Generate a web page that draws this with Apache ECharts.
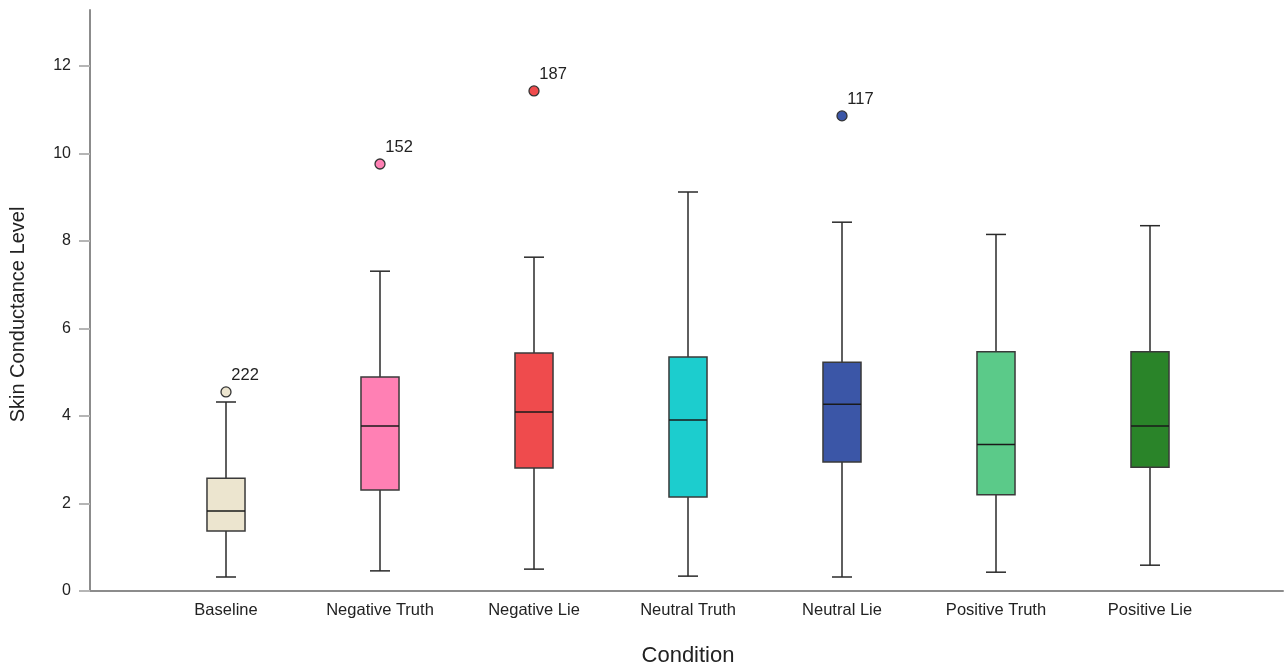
<!DOCTYPE html>
<html>
<head>
<meta charset="utf-8">
<script src="https://cdn.jsdelivr.net/npm/echarts@6/dist/echarts.min.js"></script>
<style>html,body{margin:0;padding:0;background:#fff;}#c{width:1286px;height:665px;}</style>
</head>
<body>
<div id="c"></div>
<script>
const categories = ['Baseline', 'Negative Truth', 'Negative Lie', 'Neutral Truth', 'Neutral Lie', 'Positive Truth', 'Positive Lie'];
const whiskerLow = [0.32, 0.46, 0.50, 0.34, 0.32, 0.43, 0.59];
const quartile1  = [1.37, 2.31, 2.81, 2.15, 2.95, 2.20, 2.83];
const medians    = [1.83, 3.77, 4.09, 3.91, 4.27, 3.35, 3.77];
const quartile3  = [2.58, 4.89, 5.44, 5.35, 5.23, 5.47, 5.47];
const whiskerHigh= [4.32, 7.31, 7.63, 9.12, 8.43, 8.15, 8.35];
const boxColors  = ['#ECE5CF', '#FF80B4', '#EF4B4D', '#1CCDCE', '#3B56A7', '#5BCA89', '#2A8429'];
const outlierCats   = ['Baseline', 'Negative Truth', 'Negative Lie', 'Neutral Lie'];
const outlierValues = [4.55, 9.76, 11.43, 10.86];
const outlierLabels = ['222', '152', '187', '117'];
const yTicks = [0, 2, 4, 6, 8, 10, 12];

const FONT = 'Liberation Sans, Arial, sans-serif';
const yMin = 0, yMax = 13.28;

const boxData = categories.map((c, i) => [i, whiskerLow[i], quartile1[i], medians[i], quartile3[i], whiskerHigh[i]]);
const outlierData = outlierCats.map((c, k) => {
  const idx = categories.indexOf(c);
  return {
    value: [c, outlierValues[k]],
    itemStyle: { color: boxColors[idx] },
    label: { formatter: outlierLabels[k] }
  };
});

const chart = echarts.init(document.getElementById('c'), null, { renderer: 'canvas' });
chart.setOption({
  backgroundColor: '#ffffff',
  animation: false,
  textStyle: { fontFamily: FONT },
  grid: [
    { left: 149, right: 59, top: 10, bottom: 74, outerBoundsMode: 'none', containLabel: false },
    { left: 90, right: 3, top: 10, bottom: 74, outerBoundsMode: 'none', containLabel: false }
  ],
  xAxis: [
    {
      type: 'category', gridIndex: 0, data: categories,
      axisLine: { show: false }, axisTick: { show: false },
      axisLabel: { color: '#222', fontSize: 16.5, margin: 11, fontFamily: FONT },
      name: 'Condition', nameLocation: 'middle', nameGap: 54,
      nameTextStyle: { color: '#222', fontSize: 22, fontFamily: FONT }
    },
    {
      type: 'value', gridIndex: 1, min: 0, max: 1,
      axisLine: { show: true, lineStyle: { color: '#8c8c8c', width: 2 } },
      axisTick: { show: false }, axisLabel: { show: false }, splitLine: { show: false }
    }
  ],
  yAxis: [
    {
      type: 'value', gridIndex: 0, min: yMin, max: yMax,
      show: false, splitLine: { show: false }
    },
    {
      type: 'value', gridIndex: 1, min: yMin, max: yMax, interval: 2,
      axisLine: { show: true, lineStyle: { color: '#8c8c8c', width: 2 } },
      axisTick: { show: true, length: 11, customValues: yTicks, lineStyle: { color: '#b5b5b5', width: 2 } },
      splitLine: { show: false },
      axisLabel: {
        color: '#222', fontSize: 16, margin: 19, fontFamily: FONT,
        customValues: yTicks
      },
      name: 'Skin Conductance Level', nameLocation: 'middle', nameGap: 62,
      nameTextStyle: { color: '#222', fontSize: 20, fontFamily: FONT, padding: [0, 28, 0, 0] }
    }
  ],
  series: [
    {
      type: 'custom', xAxisIndex: 0, yAxisIndex: 0,
      data: boxData,
      encode: { x: 0, y: [1, 2, 3, 4, 5] },
      renderItem: function (params, api) {
        const i = api.value(0);
        const band = api.size([1, 0])[0];
        const half = band * 0.247 / 2;
        const cap = 10;
        const pLow = api.coord([i, api.value(1)]);
        const pQ1 = api.coord([i, api.value(2)]);
        const pMed = api.coord([i, api.value(3)]);
        const pQ3 = api.coord([i, api.value(4)]);
        const pHigh = api.coord([i, api.value(5)]);
        const x = pMed[0];
        const lineStyle = { stroke: '#2a2a2a', lineWidth: 1.5 };
        return {
          type: 'group',
          children: [
            { type: 'line', shape: { x1: x, y1: pQ3[1], x2: x, y2: pHigh[1] }, style: lineStyle },
            { type: 'line', shape: { x1: x, y1: pQ1[1], x2: x, y2: pLow[1] }, style: lineStyle },
            { type: 'line', shape: { x1: x - cap, y1: pHigh[1], x2: x + cap, y2: pHigh[1] }, style: lineStyle },
            { type: 'line', shape: { x1: x - cap, y1: pLow[1], x2: x + cap, y2: pLow[1] }, style: lineStyle },
            {
              type: 'rect',
              shape: { x: x - half, y: pQ3[1], width: half * 2, height: pQ1[1] - pQ3[1] },
              style: { fill: boxColors[i], stroke: '#3a3a3a', lineWidth: 1.5 }
            },
            { type: 'line', shape: { x1: x - half, y1: pMed[1], x2: x + half, y2: pMed[1] }, style: { stroke: '#1a1a1a', lineWidth: 1.5 } }
          ]
        };
      }
    },
    {
      type: 'scatter', xAxisIndex: 0, yAxisIndex: 0,
      symbol: 'circle', symbolSize: 10,
      itemStyle: { borderColor: '#333', borderWidth: 1.3, opacity: 1 },
      label: {
        show: true, position: [11, -11], align: 'left', verticalAlign: 'middle',
        color: '#222', fontSize: 16.5, fontFamily: FONT
      },
      data: outlierData
    }
  ]
});
</script>
</body>
</html>
